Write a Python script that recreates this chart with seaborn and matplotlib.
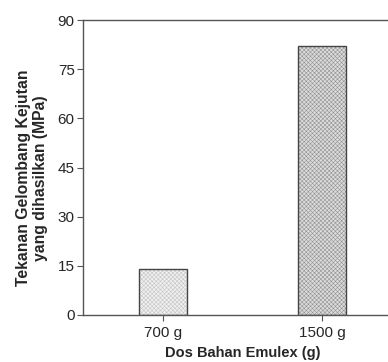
import matplotlib
matplotlib.use("Agg")
import matplotlib.pyplot as plt
from matplotlib.colors import to_rgba
import seaborn as sns
import pandas as pd

# data
dos = ["700 g", "1500 g"]
tekanan = [14, 82]
warna = ["#f0f0f0", "#dcdcdc"]
warna_corak = ["#c4c4c4", "#939393"]
corak = ["xxxxxxxx", "xxxxxxxx"]

sns.set_style("white")
plt.rcParams["font.family"] = ["Liberation Sans", "DejaVu Sans"]
plt.rcParams["hatch.linewidth"] = 0.4

df = pd.DataFrame({"dos": dos, "tekanan": tekanan})

fig = plt.figure(figsize=(3.88, 3.62), dpi=100)
ax = fig.add_axes([83 / 388, 1 - 315 / 362, 319 / 388, 295 / 362])

sns.barplot(data=df, x="dos", y="tekanan", hue="dos", palette=warna,
            width=0.3, edgecolor="#444444", linewidth=1.0, legend=False, ax=ax)
for patch, h, hc in zip(ax.patches, corak, warna_corak):
    patch.set_hatch(h)
    patch._hatch_color = to_rgba(hc)

ax.set_xlim(-0.5, 1.5)
ax.set_ylim(0, 90)
ax.set_yticks([0, 15, 30, 45, 60, 75, 90])

for side in ["left", "bottom", "top", "right"]:
    ax.spines[side].set_color("#555555")
    ax.spines[side].set_linewidth(1.0)

ax.tick_params(axis="both", direction="out", length=4, width=0.8,
               color="#555555", labelsize=11)
ax.tick_params(axis="y", pad=2)
ax.tick_params(axis="x", pad=4)
ax.tick_params(left=True, bottom=True)

ax.set_xlabel("Dos Bahan Emulex (g)", fontsize=10.5, fontweight="bold", labelpad=4)
ax.set_ylabel("Tekanan Gelombang Kejutan\nyang dihasilkan (MPa)", fontsize=11.3,
              fontweight="bold", labelpad=7, y=0.464)

fig.savefig("out.png", dpi=100)
